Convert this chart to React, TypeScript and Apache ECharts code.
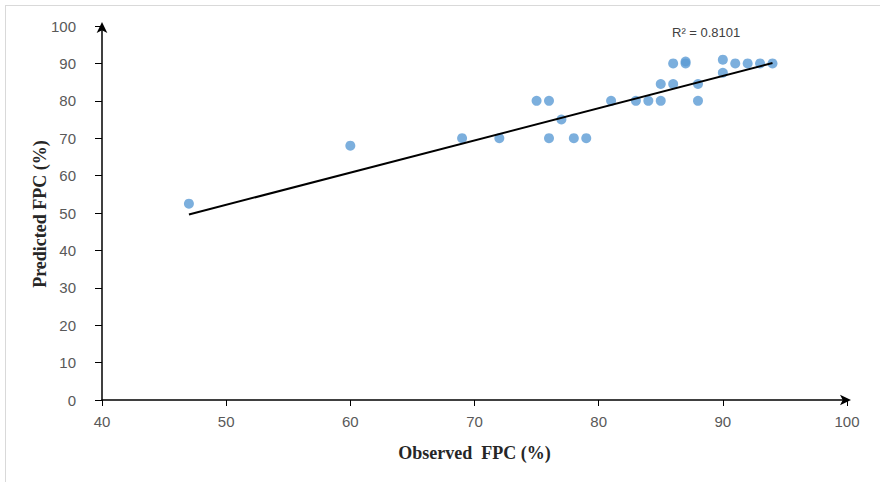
import React, { useEffect, useRef } from "react";
import * as echarts from "echarts";

const observed = [47, 60, 69, 72, 75, 76, 76, 77, 78, 79, 81, 83, 84, 85, 85, 86, 86, 87, 87, 88, 88, 90, 90, 91, 92, 93, 94];
const predicted = [52.5, 68, 70, 70, 80, 80, 70, 75, 70, 70, 80, 80, 80, 84.5, 80, 90, 84.5, 90, 90.5, 84.5, 80, 91, 87.5, 90, 90, 90, 90];
const trendX = [47, 94];
const trendY = [49.6, 90.1];
const r2Label = "R² = 0.8101";
const xTitle = "Observed  FPC (%)";
const yTitle = "Predicted FPC (%)";

export default function App() {
  const ref = useRef<HTMLDivElement>(null);
  useEffect(() => {
    if (!ref.current) return;
    const chart = echarts.init(ref.current, null, { renderer: "svg" });
    const labelStyle = { color: "#595959", fontSize: 15, fontFamily: "Liberation Sans, Arial, sans-serif" };
    const titleStyle = { color: "#262626", fontSize: 18, fontWeight: "bold", fontFamily: "Liberation Serif, Times New Roman, serif" };
    chart.setOption({
      animation: false,
      backgroundColor: "#ffffff",
      grid: { left: 102, right: 33, top: 26, bottom: 82, containLabel: false },
      xAxis: {
        type: "value",
        min: 40,
        max: 100,
        interval: 10,
        name: xTitle,
        nameLocation: "middle",
        nameGap: 44,
        nameTextStyle: titleStyle,
        axisLine: { show: true, onZero: false, lineStyle: { color: "#000", width: 1.5 }, symbol: ["none", "arrow"], symbolSize: [8, 11], symbolOffset: [0, 4] },
        axisTick: { show: true, inside: false, length: 6, lineStyle: { color: "#000" } },
        axisLabel: { ...labelStyle, margin: 14 },
        splitLine: { show: false },
      },
      yAxis: {
        type: "value",
        min: 0,
        max: 100,
        interval: 10,
        axisLine: { show: true, onZero: false, lineStyle: { color: "#000", width: 1.5 }, symbol: ["none", "arrow"], symbolSize: [8, 11], symbolOffset: [0, 4] },
        axisTick: { show: true, inside: false, length: 7, lineStyle: { color: "#000" } },
        axisLabel: { ...labelStyle, margin: 26 },
        splitLine: { show: false },
      },
      series: [
        {
          type: "scatter",
          data: observed.map((x, i) => [x, predicted[i]]),
          symbol: "circle",
          symbolSize: 10,
          itemStyle: { color: "#5B9BD5" },
          z: 2,
        },
        {
          type: "line",
          data: trendX.map((x, i) => [x, trendY[i]]),
          showSymbol: false,
          symbol: "none",
          lineStyle: { color: "#000", width: 2 },
          z: 3,
        },
      ],
      graphic: [
        { type: "line", shape: { x1: 5, y1: 5.5, x2: 880, y2: 5.5 }, style: { stroke: "#d9d9d9", lineWidth: 1 } },
        { type: "line", shape: { x1: 5.5, y1: 5, x2: 5.5, y2: 482 }, style: { stroke: "#d9d9d9", lineWidth: 1 } },
        {
          type: "text",
          x: 40,
          y: 214,
          rotation: Math.PI / 2,
          style: {
            text: yTitle,
            fill: titleStyle.color,
            fontSize: 18,
            fontWeight: "bold",
            fontFamily: titleStyle.fontFamily,
            align: "center",
            verticalAlign: "middle",
          },
        },
        {
          type: "text",
          left: 672,
          top: 26,
          style: { text: r2Label, fill: "#404040", fontSize: 13, fontFamily: "Liberation Sans Narrow, Liberation Sans, Arial, sans-serif" },
        },
      ],
    });
    return () => chart.dispose();
  }, []);
  return <div ref={ref} style={{ width: 880, height: 482, position: "absolute", left: 0, top: 0 }} />;
}
